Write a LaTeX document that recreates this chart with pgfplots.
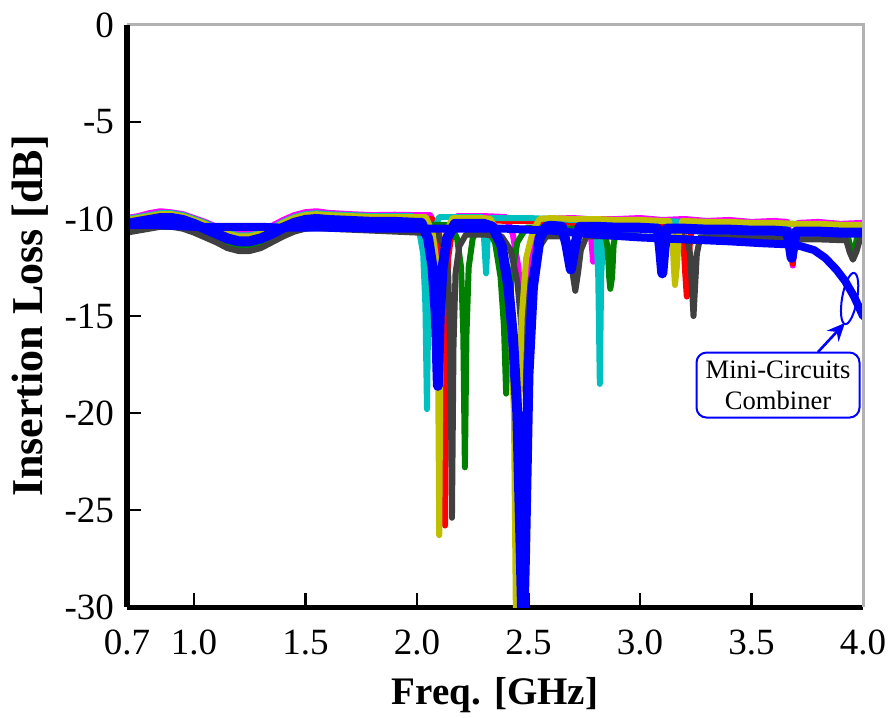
\documentclass[border=0pt]{standalone}
\usepackage{fontspec}
\setmainfont{Liberation Serif}
\usepackage{pgfplots}
\pgfplotsset{compat=1.18}
\usetikzlibrary{arrows.meta}
\definecolor{cMag}{HTML}{FF00FF}
\definecolor{cCyan}{HTML}{00C0C0}
\definecolor{cYel}{HTML}{C0C000}
\definecolor{cRed}{HTML}{FF0000}
\definecolor{cGreen}{HTML}{008000}
\definecolor{cGray}{HTML}{404040}
\definecolor{cBlue}{HTML}{0000FF}
\begin{document}
\begin{tikzpicture}
\begin{axis}[
  name=ax,
  scale only axis, width=368pt, height=291pt,
  xmin=0.7, xmax=4.0, ymin=-30, ymax=0,
  axis x line*=bottom, axis y line*=left,
  axis line style={-, black, line width=2.5pt},
  tick align=inside,
  major tick length=7pt,
  every tick/.style={black, line width=1.2pt},
  xtick={0.7,1,1.5,2,2.5,3,3.5,4},
  xticklabels={0.7,1.0,1.5,2.0,2.5,3.0,3.5,4.0},
  ytick={-30,-25,-20,-15,-10,-5,0},
  yticklabels={-30,-25,-20,-15,-10,-5,0},
  ticklabel style={font=\fontsize{18.5}{20}\selectfont},
  xticklabel style={yshift=-8pt},
  yticklabel style={xshift=-3pt},
  xlabel={Freq. [GHz]}, ylabel={Insertion Loss [dB]},
  xlabel style={font=\bfseries\fontsize{19.5}{22}\selectfont, at={(axis description cs:0.5,-0.152)}, anchor=center},
  ylabel style={font=\bfseries\fontsize{22}{24}\selectfont, at={(axis description cs:-0.131,0.5)}, anchor=center},
  every axis plot/.append style={line join=round, line cap=round, mark=none},
]
% magenta
\addplot[cMag, line width=3pt] coordinates {(0.70,-9.95)(0.75,-9.85)(0.80,-9.7)(0.85,-9.6)(0.90,-9.66)(0.95,-9.75)(1.00,-9.95)(1.05,-10.15)(1.10,-10.4)(1.15,-10.6)(1.20,-10.75)(1.25,-10.75)(1.30,-10.6)(1.35,-10.35)(1.40,-10.05)(1.45,-9.8)(1.50,-9.65)(1.55,-9.6)(1.60,-9.68)(1.70,-9.75)(1.80,-9.8)(1.90,-9.78)(2.00,-9.8)(2.06,-9.8)(2.09,-10.6)(2.105,-11.8)(2.114,-16)(2.12,-25)(2.126,-16)(2.135,-11.8)(2.15,-10.6)(2.18,-9.85)(2.30,-9.85)(2.40,-9.9)(2.43,-10.8)(2.455,-12.5)(2.47,-15)(2.48,-18.8)(2.49,-15)(2.505,-12.5)(2.53,-10.8)(2.56,-10.0)(2.70,-9.95)(2.76,-10.0)(2.78,-10.8)(2.79,-12.2)(2.80,-10.8)(2.82,-10.0)(2.90,-10.0)(3.00,-9.95)(3.10,-10.05)(3.20,-10.0)(3.30,-10.1)(3.40,-10.05)(3.50,-10.15)(3.60,-10.1)(3.66,-10.15)(3.675,-11)(3.685,-12.4)(3.695,-11)(3.71,-10.2)(3.80,-10.15)(3.90,-10.25)(4.00,-10.2)};
% red
\addplot[cRed, line width=3pt] coordinates {(0.70,-10.15)(0.75,-10.05)(0.80,-9.95)(0.85,-9.85)(0.90,-9.85)(0.95,-9.95)(1.00,-10.15)(1.05,-10.35)(1.10,-10.6)(1.15,-10.85)(1.20,-11.0)(1.25,-11.0)(1.30,-10.85)(1.35,-10.6)(1.40,-10.3)(1.45,-10.05)(1.50,-9.9)(1.55,-9.85)(1.60,-9.9)(1.70,-9.95)(1.80,-10.0)(1.90,-10.0)(2.00,-10.0)(2.07,-10.0)(2.10,-10.8)(2.113,-12)(2.12,-16)(2.126,-25.8)(2.132,-16)(2.14,-12)(2.155,-10.8)(2.18,-10.05)(2.30,-10.05)(2.40,-10.1)(2.50,-10.1)(2.60,-10.15)(2.70,-10.2)(2.80,-10.2)(2.90,-10.25)(3.00,-10.25)(3.10,-10.3)(3.18,-10.3)(3.195,-11.2)(3.203,-12.8)(3.21,-14.0)(3.217,-12.5)(3.225,-11)(3.24,-10.3)(3.30,-10.35)(3.40,-10.35)(3.50,-10.4)(3.60,-10.4)(3.66,-10.45)(3.675,-11.2)(3.685,-12.3)(3.695,-11.2)(3.71,-10.45)(3.80,-10.45)(3.90,-10.5)(4.00,-10.5)};
% cyan
\addplot[cCyan, line width=3pt] coordinates {(0.70,-10.0)(0.75,-9.9)(0.80,-9.8)(0.85,-9.7)(0.90,-9.7)(0.95,-9.8)(1.00,-10.0)(1.05,-10.2)(1.10,-10.45)(1.15,-10.7)(1.20,-10.85)(1.25,-10.85)(1.30,-10.7)(1.35,-10.45)(1.40,-10.15)(1.45,-9.9)(1.50,-9.75)(1.55,-9.7)(1.60,-9.75)(1.70,-9.8)(1.80,-9.85)(1.90,-9.85)(1.98,-9.85)(2.01,-10.6)(2.028,-11.8)(2.038,-14.5)(2.045,-19.8)(2.051,-14.5)(2.06,-11.8)(2.075,-10.6)(2.10,-9.9)(2.20,-9.9)(2.29,-9.9)(2.30,-10.8)(2.31,-12.8)(2.318,-10.8)(2.33,-9.95)(2.40,-9.95)(2.50,-9.95)(2.60,-10.0)(2.70,-10.05)(2.79,-10.05)(2.805,-10.9)(2.813,-13)(2.82,-18.5)(2.826,-13)(2.835,-10.9)(2.85,-10.1)(2.90,-10.05)(3.00,-10.1)(3.10,-10.1)(3.20,-10.15)(3.30,-10.15)(3.40,-10.2)(3.50,-10.2)(3.60,-10.25)(3.70,-10.25)(3.80,-10.3)(3.90,-10.3)(4.00,-10.35)};
% green
\addplot[cGreen, line width=3pt] coordinates {(0.70,-10.45)(0.75,-10.35)(0.80,-10.25)(0.85,-10.15)(0.90,-10.15)(0.95,-10.25)(1.00,-10.45)(1.05,-10.7)(1.10,-10.95)(1.15,-11.25)(1.20,-11.45)(1.25,-11.45)(1.30,-11.25)(1.35,-10.95)(1.40,-10.65)(1.45,-10.4)(1.50,-10.25)(1.55,-10.2)(1.60,-10.25)(1.70,-10.3)(1.80,-10.3)(1.90,-10.3)(2.00,-10.3)(2.15,-10.3)(2.18,-11.0)(2.198,-12.5)(2.208,-16)(2.215,-22.8)(2.222,-16)(2.232,-12.5)(2.25,-11.0)(2.28,-10.35)(2.31,-10.4)(2.35,-11.2)(2.375,-13)(2.39,-15.5)(2.40,-19)(2.41,-15.5)(2.425,-13)(2.45,-11.2)(2.49,-10.45)(2.60,-10.45)(2.70,-10.5)(2.84,-10.5)(2.855,-11.5)(2.862,-13)(2.867,-13.6)(2.875,-13)(2.882,-11.3)(2.895,-10.55)(3.00,-10.55)(3.10,-10.6)(3.20,-10.6)(3.30,-10.65)(3.40,-10.65)(3.50,-10.7)(3.60,-10.7)(3.70,-10.75)(3.80,-10.75)(3.93,-10.8)(3.945,-11.5)(3.955,-12.0)(3.965,-11.5)(3.975,-10.8)(4.00,-10.8)};
% dark gray
\addplot[cGray, line width=3pt] coordinates {(0.70,-10.7)(0.75,-10.6)(0.80,-10.5)(0.85,-10.4)(0.90,-10.4)(0.95,-10.5)(1.00,-10.7)(1.05,-10.95)(1.10,-11.2)(1.15,-11.5)(1.20,-11.65)(1.25,-11.65)(1.30,-11.5)(1.35,-11.2)(1.40,-10.9)(1.45,-10.65)(1.50,-10.5)(1.55,-10.45)(1.60,-10.5)(1.70,-10.55)(1.80,-10.6)(1.90,-10.65)(2.00,-10.7)(2.09,-10.75)(2.12,-11.4)(2.14,-12.8)(2.15,-16.5)(2.157,-25.4)(2.164,-16.5)(2.173,-12.8)(2.19,-11.4)(2.22,-10.8)(2.30,-10.8)(2.38,-10.9)(2.42,-11.6)(2.45,-13.2)(2.468,-15.5)(2.48,-18.7)(2.492,-15.5)(2.51,-13.2)(2.54,-11.6)(2.58,-10.9)(2.66,-10.9)(2.685,-11.6)(2.698,-12.8)(2.71,-13.7)(2.722,-12.8)(2.735,-11.6)(2.76,-10.9)(2.90,-10.9)(3.00,-10.9)(3.10,-10.95)(3.21,-10.95)(3.225,-11.8)(3.233,-13.5)(3.24,-15.0)(3.247,-13.5)(3.255,-11.8)(3.27,-10.95)(3.40,-10.95)(3.50,-11.0)(3.60,-11.0)(3.70,-11.05)(3.80,-11.05)(3.925,-11.1)(3.94,-11.7)(3.955,-12.1)(3.97,-11.7)(3.985,-11.1)(4.00,-11.1)};
% yellow
\addplot[cYel, line width=3pt] coordinates {(0.70,-10.05)(0.75,-9.95)(0.80,-9.85)(0.85,-9.75)(0.90,-9.75)(0.95,-9.85)(1.00,-10.05)(1.05,-10.25)(1.10,-10.5)(1.15,-10.75)(1.20,-10.9)(1.25,-10.9)(1.30,-10.75)(1.35,-10.5)(1.40,-10.2)(1.45,-9.95)(1.50,-9.8)(1.55,-9.75)(1.60,-9.8)(1.70,-9.85)(1.80,-9.9)(1.90,-9.9)(2.00,-9.9)(2.04,-9.9)(2.07,-10.7)(2.085,-12)(2.094,-16)(2.10,-26.3)(2.106,-16)(2.115,-12)(2.13,-10.7)(2.16,-9.95)(2.20,-9.95)(2.30,-9.95)(2.33,-10.0)(2.37,-10.9)(2.40,-12.8)(2.42,-15.5)(2.435,-20)(2.445,-32)(2.455,-21)(2.47,-15)(2.49,-12)(2.52,-10.6)(2.55,-10.0)(2.60,-9.95)(2.70,-10.0)(2.80,-10.0)(2.90,-10.05)(3.00,-10.05)(3.10,-10.1)(3.13,-10.1)(3.145,-11)(3.152,-12.5)(3.157,-13.4)(3.165,-12.5)(3.175,-10.8)(3.19,-10.1)(3.30,-10.15)(3.40,-10.15)(3.50,-10.2)(3.60,-10.2)(3.70,-10.25)(3.80,-10.25)(3.90,-10.3)(4.00,-10.3)};
% blue filter
\addplot[cBlue, line width=5pt] coordinates {(0.70,-10.25)(0.75,-10.15)(0.80,-10.05)(0.85,-9.95)(0.90,-9.95)(0.95,-10.05)(1.00,-10.25)(1.05,-10.5)(1.10,-10.75)(1.15,-11.0)(1.20,-11.15)(1.25,-11.15)(1.30,-11.0)(1.35,-10.75)(1.40,-10.45)(1.45,-10.2)(1.50,-10.05)(1.55,-10.0)(1.60,-10.05)(1.70,-10.1)(1.80,-10.15)(1.90,-10.15)(2.00,-10.2)(2.02,-10.2)(2.05,-11.0)(2.07,-12.5)(2.085,-15)(2.094,-18.6)(2.102,-15)(2.115,-12.5)(2.135,-11.0)(2.17,-10.25)(2.20,-10.25)(2.30,-10.25)(2.34,-10.4)(2.38,-11.4)(2.41,-13.5)(2.43,-16)(2.45,-20)(2.465,-27)(2.475,-32)(2.485,-27)(2.50,-18)(2.52,-13.5)(2.55,-11.0)(2.58,-10.4)(2.60,-10.35)(2.65,-10.4)(2.67,-11.3)(2.69,-12.6)(2.71,-11.3)(2.73,-10.4)(2.80,-10.4)(2.90,-10.45)(3.00,-10.45)(3.08,-10.5)(3.09,-11.5)(3.10,-12.8)(3.11,-11.5)(3.12,-10.5)(3.20,-10.5)(3.30,-10.55)(3.40,-10.55)(3.50,-10.6)(3.60,-10.6)(3.66,-10.65)(3.67,-11.2)(3.68,-12.0)(3.69,-11.2)(3.70,-10.65)(3.80,-10.65)(3.90,-10.7)(4.00,-10.7)};
% blue Mini-Circuits combiner
\addplot[cBlue, line width=4pt] coordinates {(0.70,-10.3)(0.80,-10.3)(0.90,-10.35)(1.00,-10.4)(1.10,-10.4)(1.20,-10.4)(1.30,-10.4)(1.40,-10.45)(1.50,-10.45)(1.60,-10.45)(1.80,-10.5)(2.00,-10.5)(2.20,-10.5)(2.40,-10.5)(2.60,-10.6)(2.80,-10.8)(3.00,-10.95)(3.20,-11.05)(3.40,-11.15)(3.55,-11.25)(3.65,-11.3)(3.72,-11.4)(3.78,-11.6)(3.83,-12.0)(3.88,-12.6)(3.92,-13.2)(3.96,-14.0)(4.00,-15.0)};
% annotation
\draw[cBlue, line width=1pt, rotate around={-10:(axis cs:3.94,-14.1)}] (axis cs:3.94,-14.1) ellipse [x radius=3.75pt, y radius=13pt];
\draw[cBlue, line width=1.3pt, -{Stealth[length=9pt,width=8pt]}] (axis cs:3.798,-16.86) -- (axis cs:3.919,-15.36);
\node[draw=cBlue, line width=1pt, rounded corners=5pt, fill=white, minimum width=81.5pt, minimum height=32.5pt, align=center, inner sep=2pt, font=\fontsize{13.3}{15.5}\selectfont] at (axis cs:3.619,-18.56) {Mini-Circuits\\Combiner};
\end{axis}
\draw[gray!60, line width=1.5pt] (ax.north west) -- (ax.north east) -- (ax.south east);
\draw[black, line width=2.5pt] (ax.north west) -- (ax.south west);
\pgfresetboundingbox
\path (-63.5pt,-55pt) rectangle (383pt,303.5pt);
\end{tikzpicture}
\end{document}
